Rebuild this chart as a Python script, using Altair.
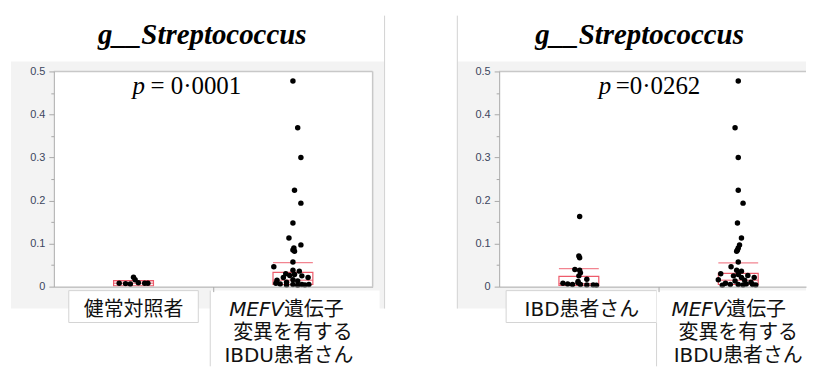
import altair as alt
import pandas as pd

# ---------------- data ----------------
title_text = "g__Streptococcus"
p_symbol = "p"
p_left_text = "= 0·0001"
p_right_text = "=0·0262"

healthy_label = "健常対照者"
ibd_label = "IBD患者さん"
mefv_label_italic = "MEFV"
mefv_label_lines = ["遺伝子", "変異を有する", "IBDU患者さん"]

group_pos = [0.5, 1.5]          # category centres on the x scale
divider_tick = [1]
y_ticks = [0, 0.05, 0.1, 0.15, 0.2, 0.25, 0.3, 0.35, 0.4, 0.45, 0.5]

healthy_vals = [0.008, 0.007, 0.022, 0.016, 0.009, 0.008, 0.008, 0.006]
healthy_jit = [-0.09, -0.05, 0.0, 0.01, 0.03, 0.07, 0.09, -0.02]

mefv_vals = [0.478, 0.369, 0.300, 0.224, 0.194, 0.148, 0.113, 0.097, 0.090, 0.085,
             0.082, 0.057, 0.046, 0.038, 0.036, 0.030, 0.028, 0.026, 0.025, 0.021,
             0.021, 0.016, 0.015, 0.013, 0.010, 0.008, 0.006, 0.005, 0.005, 0.005,
             0.004, 0.004, 0.003]
mefv_jit_left = [0.0, 0.03, 0.05, 0.01, 0.05, 0.0, -0.025, 0.05, 0.006, 0.0,
                 0.01, 0.0, -0.12, 0.0, 0.04, -0.045, 0.01, -0.02, 0.056, 0.095,
                 -0.06, 0.0, -0.1, 0.03, -0.04, -0.107, -0.08, 0.0, 0.056, 0.1,
                 -0.04, 0.075, 0.03]
mefv_jit_right = [0.0, -0.02, 0.0, 0.0, 0.03, -0.005, 0.02, 0.008, 0.0, -0.005,
                  -0.01, 0.0, -0.045, -0.01, 0.02, -0.11, 0.0, 0.06, -0.03, 0.02,
                  0.1, -0.125, 0.04, -0.02, 0.08, -0.08, 0.05, -0.05, 0.0, 0.09,
                  0.11, 0.03, -0.1]

ibd_vals = [0.163, 0.071, 0.067, 0.040, 0.038, 0.032, 0.025, 0.017, 0.012, 0.009,
            0.008, 0.006, 0.005, 0.005, 0.004, 0.004, 0.003]
ibd_jit = [0.005, 0.0, 0.005, -0.025, 0.005, 0.01, 0.0, 0.05, -0.005, -0.005,
           -0.1, -0.07, -0.04, 0.01, 0.05, 0.09, 0.11]

# q1, q3, median, mean line
healthy_box = [0.002, 0.014, 0.008, 0.014]
mefv_box_left = [0.005, 0.033, 0.015, 0.056]
ibd_box = [0.003, 0.024, 0.007, 0.042]
mefv_box_right = [0.005, 0.031, 0.015, 0.055]

# ---------------- styling ----------------
H = 216
RED = "#ee5b6b"
FRAME = "#c8c8c8"
AXIS = "#a9a9a9"
BG = "#f3f3f3"
SERIF = "Liberation Serif"
JP = "DejaVu Sans, Noto Sans CJK JP"
one = pd.DataFrame({"k": [0]})

YAXIS = alt.Axis(
    values=y_ticks,
    labelExpr="datum.value == 0 ? '0' : (round(datum.value*100) % 10 == 0 ? format(datum.value, '.1f') : '')",
    tickSize={"condition": {"test": "round(datum.value*100) % 10 == 0", "value": 5}, "value": 3},
    labelFontSize=11, labelFont="Liberation Sans", labelColor="#3c4660",
    domainColor=AXIS, tickColor=AXIS, labelPadding=4, grid=False, title=None,
    zindex=2)
XAXIS = alt.Axis(values=divider_tick, labels=False, tickSize=5, domainColor=AXIS,
                 tickColor=AXIS, grid=False, title=None, zindex=2)


def prule(x1, y1, x2=None, y2=None, color=FRAME, width=1.0):
    enc = dict(x=alt.value(x1), y=alt.value(y1))
    if x2 is not None:
        enc["x2"] = alt.value(x2)
    if y2 is not None:
        enc["y2"] = alt.value(y2)
    return alt.Chart(one).mark_rule(color=color, strokeWidth=width).encode(**enc)


def prect(x1, x2, y1, y2, fill, stroke=None):
    kw = dict(fill=fill)
    if stroke is not None:
        kw.update(stroke=stroke, strokeWidth=1)
    return alt.Chart(one).mark_rect(**kw).encode(
        x=alt.value(x1), x2=alt.value(x2), y=alt.value(y1), y2=alt.value(y2))


def ptext(text, x, y, size, font, style="normal", weight="normal", align="left"):
    return alt.Chart(one).mark_text(
        text=text, font=font, fontSize=size, fontStyle=style, fontWeight=weight,
        align=align, baseline="alphabetic", color="black").encode(
        x=alt.value(x), y=alt.value(y))


def cat_text(text, pos, xs, dx, y, style="normal", align="center"):
    return alt.Chart(one).mark_text(
        text=text, font=JP, fontSize=20, fontStyle=style, align=align,
        baseline="middle", color="#111111", dx=dx).encode(
        x=alt.X(datum=pos, type="quantitative", scale=xs, axis=XAXIS),
        y=alt.value(H + y))


def make_panel(groups, W, dom_max, p_text, p_x, p_gap, title_x,
               gray_x1, gray_x2, border_x, right_frame, box_specs, label_layers):
    xs = alt.Scale(domain=[0, dom_max], nice=False, zero=False)
    ys = alt.Scale(domain=[0, 0.5], nice=False, zero=False)
    rows, srows = [], []
    for pos, vals, jit, st in groups:
        for v, j in zip(vals, jit):
            rows.append({"x": pos + j, "y": v})
        q1, q3, med, mean = st
        srows.append({"lo": pos - 0.125, "hi": pos + 0.125,
                      "q1": q1, "q3": q3, "med": med, "mean": mean})
    pts = pd.DataFrame(rows)
    st = pd.DataFrame(srows)

    layers = [
        prect(gray_x1, gray_x2, -10, H + 22, BG),
        prect(0, W, 0, H, "white"),
    ]
    for (x1, x2, y1, y2, stroke) in box_specs:
        layers.append(prect(x1, x2, H + y1, H + y2, "white", stroke))
    for bx in border_x:
        layers.append(prule(bx, -56, y2=H + 22, color="#d2d2d2"))
    layers.append(prule(0, 0, x2=W, color=FRAME, width=1.5))
    if right_frame:
        layers.append(prule(W, 0, y2=H, color=FRAME, width=1.5))

    boxes = alt.Chart(st).mark_rect(fillOpacity=0, stroke=RED, strokeWidth=1.2).encode(
        x=alt.X("lo:Q", scale=xs, axis=XAXIS), x2="hi:Q",
        y=alt.Y("q1:Q", scale=ys, axis=YAXIS), y2="q3:Q")
    med = alt.Chart(st).mark_rule(color=RED, strokeWidth=1).encode(
        x=alt.X("lo:Q", scale=xs, axis=XAXIS), x2="hi:Q",
        y=alt.Y("med:Q", scale=ys, axis=YAXIS))
    mean = alt.Chart(st).mark_rule(color=RED, strokeWidth=1.2, opacity=0.75).encode(
        x=alt.X("lo:Q", scale=xs, axis=XAXIS), x2="hi:Q",
        y=alt.Y("mean:Q", scale=ys, axis=YAXIS))
    points = alt.Chart(pts).mark_circle(size=30, color="black", opacity=1).encode(
        x=alt.X("x:Q", scale=xs, axis=XAXIS),
        y=alt.Y("y:Q", scale=ys, axis=YAXIS))
    layers += [boxes, med, mean, points]

    layers.append(ptext(title_text, title_x, -28, 29, SERIF, "italic", "bold", "center"))
    layers.append(ptext(p_symbol, p_x, 23, 25, SERIF, "italic"))
    layers.append(ptext(p_text, p_x + p_gap, 23, 25, SERIF))
    for lay in label_layers:
        layers.append(lay(xs))

    return alt.layer(*layers).properties(width=W, height=H)


W_L, W_R = 320, 308
left = make_panel(
    [(group_pos[0], healthy_vals, healthy_jit, healthy_box),
     (group_pos[1], mefv_vals, mefv_jit_left, mefv_box_left)],
    W_L, 2.0, p_left_text, 79, 18, 149, -43, 332, [332], True,
    [(15, 145, 4, 36, "#d4d4d4"), (157, 327, 4, 80, None)],
    [lambda xs: cat_text(healthy_label, group_pos[0], xs, 0, 23),
     lambda xs: prule(157, H + 4, y2=H + 80, color="#d4d4d4"),
     lambda xs: cat_text(mefv_label_italic, group_pos[1], xs, -9, 23, "italic", "right"),
     lambda xs: cat_text(mefv_label_lines[0], group_pos[1], xs, -9, 23, "normal", "left"),
     lambda xs: cat_text(mefv_label_lines[1], group_pos[1], xs, 0, 47),
     lambda xs: cat_text(mefv_label_lines[2], group_pos[1], xs, -4, 70)])

right = make_panel(
    [(group_pos[0], ibd_vals, ibd_jit, ibd_box),
     (group_pos[1], mefv_vals, mefv_jit_right, mefv_box_right)],
    W_R, W_R / 160, p_right_text, 100, 17, 141, -42, W_R, [-42], False,
    [(7, 158, 4, 36, "#d4d4d4"), (158, W_R, 4, 80, None)],
    [lambda xs: cat_text(ibd_label, group_pos[0], xs, 3, 23),
     lambda xs: prule(158, H + 36, y2=H + 80, color="#d4d4d4"),
     lambda xs: cat_text(mefv_label_italic, group_pos[1], xs, -12, 23, "italic", "right"),
     lambda xs: cat_text(mefv_label_lines[0], group_pos[1], xs, -12, 23, "normal", "left"),
     lambda xs: cat_text(mefv_label_lines[1], group_pos[1], xs, 0, 47),
     lambda xs: cat_text(mefv_label_lines[2], group_pos[1], xs, 0, 70)])

chart = alt.hconcat(left, right, spacing=71).properties(
    padding={"left": 2, "top": 6, "right": 0, "bottom": 0},
    background="white",
).configure_view(stroke="transparent")

chart.save("out.html", embed_options={"renderer": "svg", "actions": False})
